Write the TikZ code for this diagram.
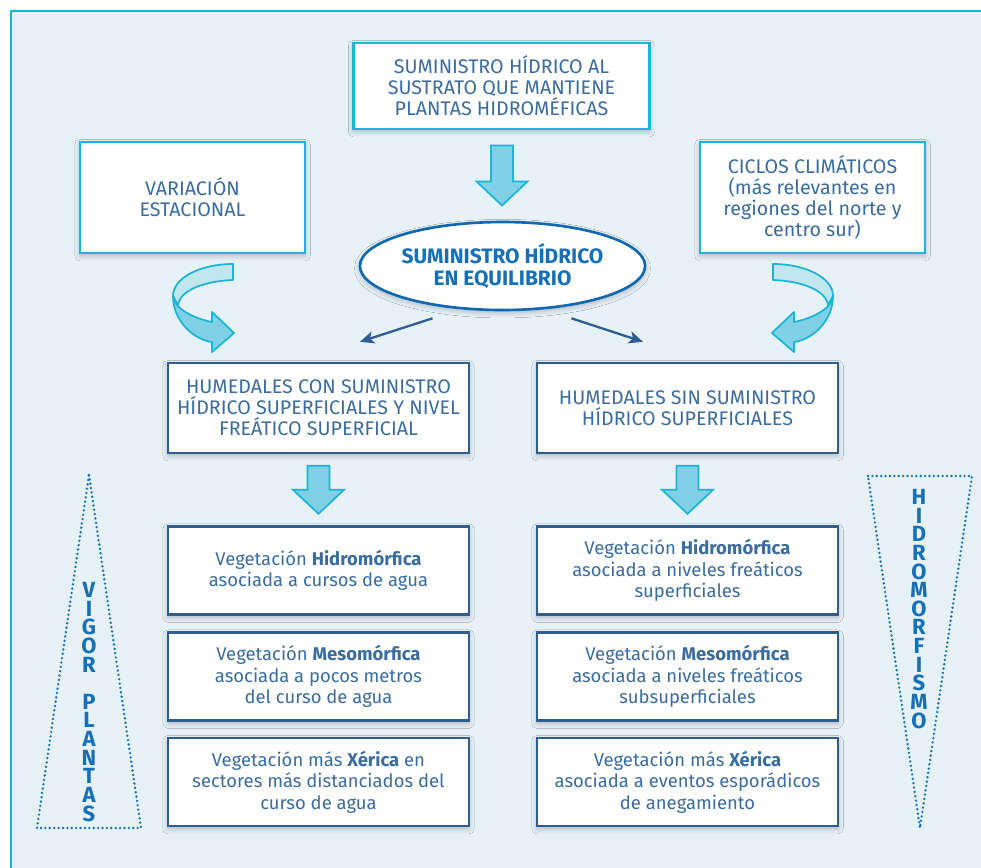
\documentclass[tikz,border=0pt]{standalone}
\usepackage{fontspec}
\setmainfont{Fira Sans}
\usetikzlibrary{shapes.geometric,arrows.meta,calc,shadows.blur}

\definecolor{panelbg}{HTML}{E6F1F8}
\definecolor{cyanline}{HTML}{1DB5D6}
\definecolor{boxline}{HTML}{2F5E8E}
\definecolor{txtblue}{HTML}{3A6C9F}
\definecolor{ellblue}{HTML}{1068B0}
\definecolor{boldblue}{HTML}{1670B8}
\definecolor{arrowdark}{HTML}{80D1E5}
\definecolor{arrowlight}{HTML}{C0E7F0}
\definecolor{linkblue}{HTML}{2E5E93}

% curved ribbon arrow, drawn in pixel units
\newcommand{\swirl}{%
  \filldraw[fill=arrowlight, draw=cyanline, line width=1pt, line join=round]
    (233,264) .. controls (200,264) and (173,278) .. (173,296) -- (178,305)
    .. controls (180,290) and (205,281) .. (233,280) -- cycle;
  \filldraw[fill=arrowdark, draw=cyanline, line width=1pt, line join=round]
    (173,296) .. controls (173,322) and (195,340) .. (212,342) -- (212,352)
    -- (234,333) -- (212,312) -- (212,322)
    .. controls (192,318) and (174,308) .. (173,296) -- cycle;
}
% straight block arrow pointing down
\newcommand{\blockdown}[2]{%
  \filldraw[fill=arrowdark, draw=cyanline, line width=1pt, line join=miter]
    ($(#1)+(-11,-#2)$) -- ($(#1)+(11,-#2)$) -- ($(#1)+(11,#2-24)$)
    -- ($(#1)+(25.5,#2-24)$) -- ($(#1)+(0,#2)$) -- ($(#1)+(-25.5,#2-24)$)
    -- ($(#1)+(-11,#2-24)$) -- cycle;
}

\tikzset{
  shade/.style={blur shadow={shadow blur steps=6, shadow xshift=0pt,
      shadow yshift=-1.5pt, shadow blur radius=3pt, shadow opacity=25}},
  base/.style={shade, fill=white, text=txtblue, align=center, inner sep=0pt,
      font=\fontsize{11.2}{12}\selectfont},
  topbox/.style={base, draw=cyanline, line width=1.4pt,
      minimum width=5.92cm, minimum height=1.72cm},
  sidebox/.style={base, draw=cyanline, line width=1.4pt,
      minimum width=4.5cm, minimum height=2.22cm},
  midbox/.style={base, draw=boxline, line width=1.4pt,
      minimum width=6.02cm, minimum height=1.8cm},
  vegbox/.style={base, draw=boxline, line width=1.4pt,
      minimum width=6.02cm, minimum height=1.76cm,
      font=\fontsize{10.5}{12.2}\selectfont},
  balance/.style={ellipse, shade, draw=ellblue, line width=1.5pt, fill=white,
      text=boldblue, align=center, inner sep=0pt, minimum width=5.24cm,
      minimum height=1.76cm, font=\bfseries\fontsize{11.9}{12.6}\selectfont},
  link/.style={draw=linkblue, line width=1.3pt,
      -{Stealth[length=8pt,width=7pt,inset=2pt]}},
  dotline/.style={draw=boldblue, line width=1.5pt, line cap=round,
      dash pattern=on 0pt off 2.5pt},
  vword/.style={text=boldblue, inner sep=0pt, anchor=north, align=center,
      font=\bfseries\fontsize{12.5}{10.6}\selectfont}
}

\begin{document}
\begin{tikzpicture}[x=0.02cm, y=-0.02cm]
  \clip (0,0) rectangle (981,867);
  \fill[white] (0,0) rectangle (981,867);
  \filldraw[fill=panelbg, draw=cyanline, line width=0.6pt] (11,11) rectangle (990,880);

  % triangles
  \draw[dotline] (89,475) -- (141,828) -- (37,828) -- cycle;
  \draw[dotline] (868,476) -- (972,476) -- (920,828) -- cycle;
  \node[vword] (vigor) at (89,582)
    {V\\I\\G\\O\\R\\[10.6pt]P\\L\\A\\N\\T\\A\\S};
  \node[vword] (hidro) at (919,489)
    {H\\I\\D\\R\\O\\M\\O\\R\\F\\I\\S\\M\\O};

  % upper part
  \node[topbox] (supply) at (501.5,86)
    {SUMINISTRO HÍDRICO AL\\SUSTRATO QUE MANTIENE\\PLANTAS HIDROMÉFICAS};
  \node[sidebox] (season) at (192.5,197.5) {VARIACIÓN\\ESTACIONAL};
  \node[sidebox] (cycles) at (812.5,197.5)
    {CICLOS CLIMÁTICOS\\(más relevantes en\\regiones del norte y\\centro sur)};
  \node[balance] (eq) at (502.5,266) {SUMINISTRO HÍDRICO\\EN EQUILIBRIO};

  % wetlands
  \node[midbox] (wetL) at (318.5,408)
    {HUMEDALES CON SUMINISTRO\\HÍDRICO SUPERFICIALES Y NIVEL\\FREÁTICO SUPERFICIAL};
  \node[midbox] (wetR) at (687.5,408)
    {HUMEDALES SIN SUMINISTRO\\HÍDRICO SUPERFICIALES};

  % vegetation
  \node[vegbox] (hydL) at (318.5,570.5)
    {Vegetación \textbf{Hidromórfica}\\asociada a cursos de agua};
  \node[vegbox] (mesL) at (318.5,676.5)
    {Vegetación \textbf{Mesomórfica}\\asociada a pocos metros\\del curso de agua};
  \node[vegbox] (xerL) at (318.5,782)
    {Vegetación más \textbf{Xérica} en\\sectores más distanciados del\\curso de agua};
  \node[vegbox] (hydR) at (687.5,570.5)
    {Vegetación \textbf{Hidromórfica}\\asociada a niveles freáticos\\superficiales};
  \node[vegbox] (mesR) at (687.5,676.5)
    {Vegetación \textbf{Mesomórfica}\\asociada a niveles freáticos\\subsuperficiales};
  \node[vegbox] (xerR) at (687.5,782)
    {Vegetación más \textbf{Xérica}\\asociada a eventos esporádicos\\de anegamiento};

  % arrows
  \blockdown{$(supply.south)!0.5!(eq.north)$}{30}
  \blockdown{$(wetL.south)!0.5!(hydL.north)$}{24}
  \blockdown{$(wetR.south)!0.5!(hydR.north)$}{24}
  \swirl
  \begin{scope}[shift={(1006,0)}, xscale=-1]
    \swirl
  \end{scope}
  \draw[link] ($(eq.south)+(-70,7)$) -- ($(wetL.north)+(41.5,-20)$);
  \draw[link] ($(eq.south)+(69,7)$) -- ($(wetR.north)+(-44.5,-20)$);
\end{tikzpicture}
\end{document}
